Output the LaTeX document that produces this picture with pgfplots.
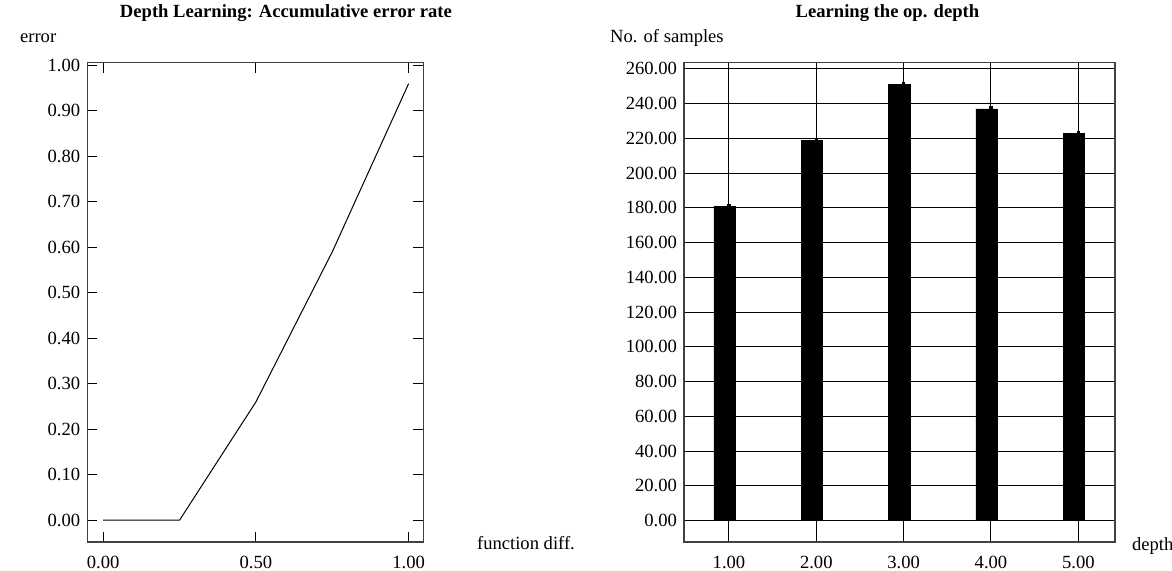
\documentclass[border=0pt]{standalone}
\usepackage{fontspec}
\setmainfont{Liberation Serif}
\usepackage{pgfplots}
\usepackage{pgfplotstable}
\pgfplotsset{compat=1.18}
\pgfplotstableread{
x y
0.00 0.00
0.25 0.00
0.50 0.26
0.75 0.59
1.00 0.96
}\errdata
\pgfplotstableread{
x y e
1 181 1.5
2 219 1.5
3 251 1.5
4 237 1.5
5 223 1.5
}\depthdata
\begin{document}
\begin{tikzpicture}
\useasboundingbox (0,0) rectangle (586pt,285.5pt);
\begin{axis}[
  at={(43.65pt,14.5pt)}, anchor=south west,
  scale only axis, width=168pt, height=239.65pt,
  xmin=-0.052, xmax=1.048, ymin=-0.048, ymax=1.006,
  xtick={0,0.5,1},
  ytick={0,0.1,0.2,0.3,0.4,0.5,0.6,0.7,0.8,0.9,1.0},
  font=\fontsize{9.3}{11}\selectfont,
  tick label style={font=\fontsize{9.3}{11}\selectfont, /pgf/number format/.cd, fixed, fixed zerofill, precision=2, assume math mode=true, /tikz/.cd},
  xticklabel style={yshift=-3.4pt},
  tick align=inside, xtick pos=both, ytick pos=both, major tick length=5pt,
  axis line style={draw=black!75, line width=0.6pt},
  tick style={black, line width=0.5pt},
  title={\bfseries Depth Learning: Accumulative error rate},
  every axis title/.style={at={(axis description cs:0.591,1)}, anchor=base, yshift=22.35pt},
  every axis y label/.style={at={(axis description cs:0,1)}, anchor=base west, xshift=-37.15pt, yshift=10pt},
  ylabel={error},
  every axis x label/.style={at={(axis description cs:1,0)}, anchor=base west, xshift=23.35pt, yshift=-4pt},
  xlabel={function diff.},
]
\addplot[black, line width=0.5pt, mark=none] table[x=x,y=y] {\errdata};
\fill[black!40] (axis description cs:1.02,1.005) circle (0.4pt);
\end{axis}
\begin{axis}[
  at={(342pt,14.5pt)}, anchor=south west,
  scale only axis, width=215.5pt, height=239.65pt,
  xmin=0.485, xmax=5.42, ymin=-12.3, ymax=263.6,
  xtick={1,2,3,4,5},
  ytick={0,20,40,60,80,100,120,140,160,180,200,220,240,260},
  font=\fontsize{9.3}{11}\selectfont,
  tick label style={font=\fontsize{9.3}{11}\selectfont, /pgf/number format/.cd, fixed, fixed zerofill, precision=2, assume math mode=true, /tikz/.cd},
  xticklabel style={yshift=-3.4pt},
  grid=major, major grid style={black, line width=0.5pt},
  major tick length=0pt,
  axis line style={draw=black!75, line width=0.6pt},
  title={\bfseries Learning the op. depth},
  every axis title/.style={at={(axis description cs:0.472,1)}, anchor=base, yshift=22.35pt},
  every axis y label/.style={at={(axis description cs:0,1)}, anchor=base west, xshift=-40.5pt, yshift=10pt},
  ylabel={No. of samples},
  every axis x label/.style={at={(axis description cs:1,0)}, anchor=base west, xshift=5pt, yshift=-4.5pt},
  xlabel={depth},
]
\addplot[ybar, bar width=0.245, bar shift=-0.05, fill=black, draw=black,
  error bars/.cd, y dir=plus, y explicit, error mark=none,
  error bar style={line width=1.6pt}]
  table[x=x,y=y,y error=e] {\depthdata};
\fill[black] ([xshift=-0.75pt,yshift=-0.75pt]axis description cs:1.013,1.004) rectangle +(1.5pt,1.5pt);
\end{axis}
\end{tikzpicture}
\end{document}
